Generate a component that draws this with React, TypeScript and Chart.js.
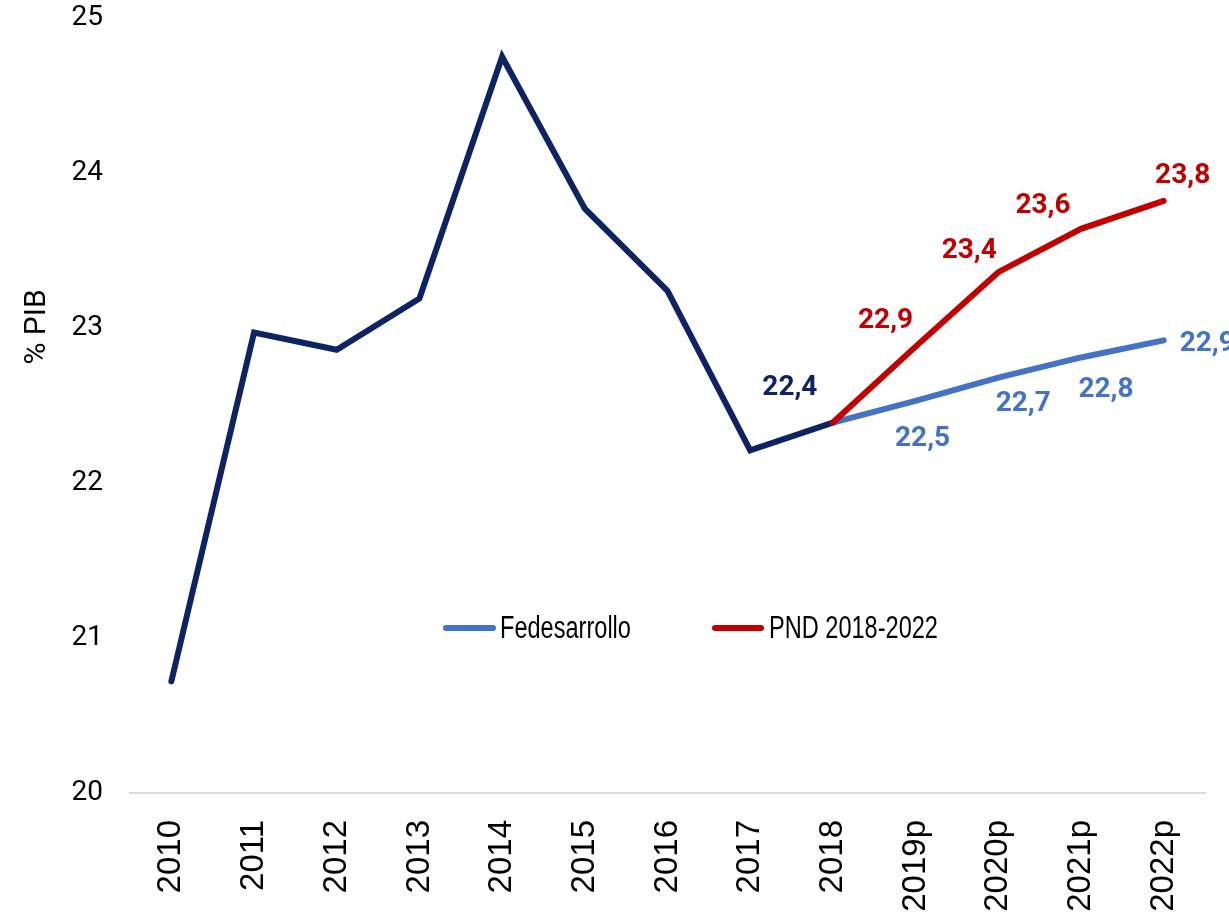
import React, { useEffect, useRef } from "react";
import { Chart, registerables } from "chart.js";

Chart.register(...registerables);

const categories = ["2010", "2011", "2012", "2013", "2014", "2015", "2016", "2017", "2018", "2019p", "2020p", "2021p", "2022p"];
const historico = [20.72, 22.97, 22.86, 23.19, 24.75, 23.77, 23.24, 22.21, 22.39, null, null, null, null];
const fedesarrollo = [null, null, null, null, null, null, null, null, 22.39, 22.53, 22.68, 22.81, 22.92];
const pnd = [null, null, null, null, null, null, null, null, 22.39, 22.88, 23.36, 23.64, 23.82];
const yTicks = [20, 21, 22, 23, 24, 25];

const NAVY = "#0E2361";
const BLUE = "#4472C4";
const RED = "#C00000";

// label placements: [datasetIndex, pointIndex, dx, dy, align]
const labelSpots: [number, number, number, number, CanvasTextAlign][] = [
  [0, 8, -43, -35, "center"],
  [1, 9, 7, 38, "center"],
  [1, 10, 25, 26, "center"],
  [1, 11, 25, 33, "center"],
  [1, 12, 16, 4, "left"],
  [2, 9, -30, -26, "center"],
  [2, 10, -29, -21, "center"],
  [2, 11, -38, -23, "center"],
  [2, 12, 19, -25, "center"],
];

const fmt = (v: number) => v.toFixed(1).replace(".", ",");

const extrasPlugin = {
  id: "extras",
  afterDatasetsDraw(chart: any) {
    const ctx = chart.ctx;
    const xs = chart.scales.x;
    const ys = chart.scales.y;
    ctx.save();
    ctx.font = "bold 28px Roboto";
    ctx.textBaseline = "middle";
    for (const [di, pi, dx, dy, align] of labelSpots) {
      const ds = chart.data.datasets[di];
      const v = ds.data[pi] as number;
      const x = xs.getPixelForValue(pi);
      const y = ys.getPixelForValue(v);
      ctx.fillStyle = ds.borderColor;
      ctx.textAlign = align;
      ctx.fillText(fmt(v), x + dx, y + dy);
    }
    // y axis title
    ctx.save();
    ctx.translate(37, 327);
    ctx.rotate(-Math.PI / 2);
    ctx.fillStyle = "#000";
    ctx.textAlign = "center";
    ctx.font = "30px Roboto";
    ctx.fillText("% PIB", 0, 0);
    ctx.restore();
    // legend
    const ly = 628;
    const items = [
      { x0: 446, x1: 493, tx: 500, color: BLUE, text: chart.data.datasets[1].label },
      { x0: 715, x1: 761, tx: 769, color: RED, text: chart.data.datasets[2].label },
    ];
    for (const it of items) {
      ctx.strokeStyle = it.color;
      ctx.lineWidth = 6;
      ctx.lineCap = "round";
      ctx.beginPath();
      ctx.moveTo(it.x0, ly);
      ctx.lineTo(it.x1, ly);
      ctx.stroke();
      ctx.save();
      ctx.translate(it.tx, ly + 1);
      ctx.scale(0.76, 1);
      ctx.font = "31px 'Liberation Sans', Arial";
      ctx.textAlign = "left";
      ctx.fillStyle = "#000";
      ctx.fillText(it.text, 0, 0);
      ctx.restore();
    }
    ctx.restore();
  },
};

export default function App() {
  const ref = useRef<HTMLCanvasElement>(null);
  useEffect(() => {
    if (!ref.current) return;
    const chart = new Chart(ref.current, {
      type: "line",
      data: {
        labels: categories,
        datasets: [
          { label: "Histórico", data: historico, borderColor: NAVY, borderWidth: 6, pointRadius: 0, order: 2, borderCapStyle: "round" },
          { label: "Fedesarrollo", data: fedesarrollo, borderColor: BLUE, borderWidth: 6, pointRadius: 0, order: 1, borderCapStyle: "round" },
          { label: "PND 2018-2022", data: pnd, borderColor: RED, borderWidth: 6, pointRadius: 0, order: 0, borderCapStyle: "round" },
        ],
      },
      options: {
        responsive: false,
        animation: false,
        devicePixelRatio: 1,
        layout: { padding: { top: 0, right: 24, left: 0, bottom: 0 } },
        plugins: { legend: { display: false }, tooltip: { enabled: false } },
        scales: {
          x: {
            offset: true,
            grid: { display: false, drawTicks: false },
            border: { display: true, color: "#D9D9D9", width: 2 },
            ticks: {
              autoSkip: false,
              maxRotation: 90,
              minRotation: 90,
              padding: 27,
              color: "#000",
              font: { family: "'Liberation Sans', Arial", size: 33 },
            },
            afterFit: (s: any) => { s.height = 122; s.paddingLeft = 0; s.paddingRight = 0; },
          },
          y: {
            min: 20,
            max: 25,
            afterBuildTicks: (s: any) => { s.ticks = yTicks.map((v) => ({ value: v })); },
            grid: { display: false, drawTicks: false },
            border: { display: false },
            ticks: { padding: 27, color: "#000", font: { family: "Roboto", size: 28 } },
            afterFit: (s: any) => { s.width = 130; s.paddingTop = 18; s.paddingBottom = 0; },
          },
        },
      },
      plugins: [extrasPlugin],
    });
    return () => chart.destroy();
  }, []);
  return (
    <div style={{ position: "fixed", left: 0, top: 0, width: 1229, height: 915, background: "#fff" }}>
      <canvas ref={ref} width={1229} height={915} style={{ display: "block" }} />
    </div>
  );
}
